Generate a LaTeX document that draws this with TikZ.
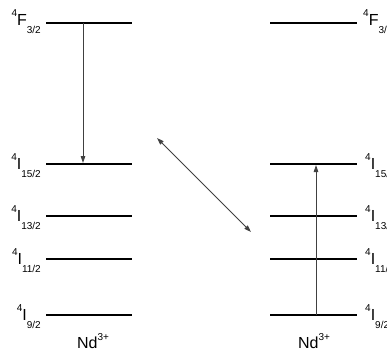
\documentclass[tikz,border=0pt]{standalone}
\usepackage{fontspec}
\setmainfont{Liberation Sans}
\usetikzlibrary{arrows.meta}
\newcommand{\lvlabel}[3]{{\fontsize{10}{10}\selectfont\raisebox{9pt}{#1}}#2{\fontsize{10}{10}\selectfont\raisebox{-8pt}{#3}}}
\tikzset{
  level/.style={line width=1.8pt},
  trans/.style={line width=0.8pt, draw=black!75, -{Triangle[length=7pt,width=4.5pt]}},
  both/.style={line width=0.8pt, draw=black!75, {Triangle[length=7pt,width=4.5pt]}-{Triangle[length=7pt,width=4.5pt]}},
  lab/.style={inner sep=0pt, font=\fontsize{16}{18}\selectfont}
}
\begin{document}
\begin{tikzpicture}[x=1pt,y=-1pt]
\useasboundingbox (0,0) rectangle (387,361);
% left levels
\coordinate (LFa) at (46,22.7);  \coordinate (LFb) at (132,22.7);
\coordinate (L15a) at (46,164);  \coordinate (L15b) at (132,164);
\coordinate (L13a) at (46,216);  \coordinate (L13b) at (132,216);
\coordinate (L11a) at (46,259);  \coordinate (L11b) at (132,259);
\coordinate (L9a) at (46,315);   \coordinate (L9b) at (132,315);
% right levels
\coordinate (RFa) at (270,22.7); \coordinate (RFb) at (357,22.7);
\coordinate (R15a) at (270,164); \coordinate (R15b) at (357,164);
\coordinate (R13a) at (270,216); \coordinate (R13b) at (357,216);
\coordinate (R11a) at (270,259); \coordinate (R11b) at (357,259);
\coordinate (R9a) at (270,315);  \coordinate (R9b) at (357,315);
\foreach \p in {LF,L15,L13,L11,L9,RF,R15,R13,R11,R9}{\draw[level] (\p a) -- (\p b);}
% labels left
\node[lab, anchor=base east] (tLF) at (41,26) {\lvlabel{4}{F}{3/2}};
\node[lab, anchor=base east] (tL15) at (41,169) {\lvlabel{4}{I}{15/2}};
\node[lab, anchor=base east] (tL13) at (41,221) {\lvlabel{4}{I}{13/2}};
\node[lab, anchor=base east] (tL11) at (41,264) {\lvlabel{4}{I}{11/2}};
\node[lab, anchor=base east] (tL9) at (41,320) {\lvlabel{4}{I}{9/2}};
% labels right
\node[lab, anchor=base west] (tRF) at (363,26) {\lvlabel{4}{F}{3/2}};
\node[lab, anchor=base west] (tR15) at (365,169) {\lvlabel{4}{I}{15/2}};
\node[lab, anchor=base west] (tR13) at (365,221) {\lvlabel{4}{I}{13/2}};
\node[lab, anchor=base west] (tR11) at (365,264) {\lvlabel{4}{I}{11/2}};
\node[lab, anchor=base west] (tR9) at (365,320) {\lvlabel{4}{I}{9/2}};
% ion labels
\node[lab, anchor=base] (ndL) at (93,348) {Nd{\fontsize{10}{10}\selectfont\raisebox{8pt}{3+}}};
\node[lab, anchor=base] (ndR) at (314,348) {Nd{\fontsize{10}{10}\selectfont\raisebox{8pt}{3+}}};
% transitions
\coordinate (a1s) at (83,22.7); \coordinate (a1e) at (83,163);
\coordinate (a2s) at (316,315); \coordinate (a2e) at (316,165);
\coordinate (d1) at (157,138);  \coordinate (d2) at (251,232);
\draw[trans] (a1s) -- (a1e);
\draw[trans] (a2s) -- (a2e);
\draw[both] (d1) -- (d2);
\end{tikzpicture}
\end{document}
